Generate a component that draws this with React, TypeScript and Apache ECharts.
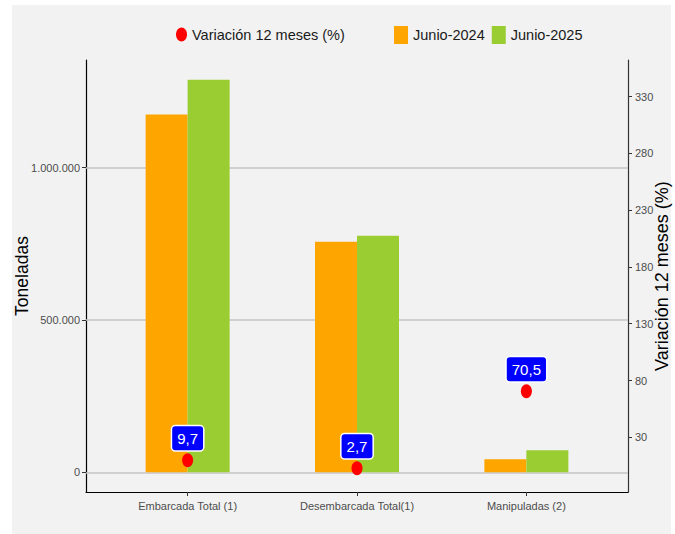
import React, { useEffect, useRef } from "react";
import * as echarts from "echarts";

const categories = ["Embarcada Total (1)", "Desembarcada Total(1)", "Manipuladas (2)"];
const positions = [0, 1, 2];
const junio2024 = [1175000, 757000, 42600];
const junio2025 = [1289000, 777000, 72600];
const variacion = [9.7, 2.7, 70.5];
const leftTicks = [0, 500000, 1000000];
const rightTicks = [30, 80, 130, 180, 230, 280, 330];

const NARROW = "'Liberation Sans Narrow', 'Arial Narrow', 'Liberation Sans', sans-serif";
const SANS = "'Liberation Sans', Arial, sans-serif";
const ELLIPSE =
  "path://M5,0C7.76,0 10,2.24 10,5C10,7.76 7.76,10 5,10C2.24,10 0,7.76 0,5C0,2.24 2.24,0 5,0Z";

const fmtThousands = (v: number) =>
  Math.round(v).toString().replace(/\B(?=(\d{3})+(?!\d))/g, ".");

export default function App() {
  const ref = useRef<HTMLDivElement>(null);
  useEffect(() => {
    if (!ref.current) return;
    const chart = echarts.init(ref.current, undefined, { renderer: "svg" });
    chart.setOption({
      animation: false,
      backgroundColor: "transparent",
      grid: {
        left: 86,
        right: 47,
        top: 60,
        bottom: 42,
        containLabel: false,
        outerBoundsMode: "none",
      },
      legend: [
        {
          data: [{ name: "Variación 12 meses (%)", icon: ELLIPSE }],
          left: 171,
          top: 22,
          itemWidth: 11,
          itemHeight: 14,
          symbolKeepAspect: false,
          textStyle: { fontFamily: NARROW, fontSize: 14.5, color: "#1a1a1a" },
        },
        {
          data: ["Junio-2024", "Junio-2025"],
          left: 389,
          top: 21,
          icon: "rect",
          itemWidth: 14,
          itemHeight: 18,
          itemGap: 7,
          textStyle: { fontFamily: NARROW, fontSize: 14.5, color: "#1a1a1a" },
        },
      ],
      xAxis: {
        type: "value",
        min: -0.6,
        max: 2.6,
        axisLine: { show: true, onZero: false, lineStyle: { color: "#000", width: 1.2 } },
        axisTick: {
          show: true,
          customValues: positions,
          length: 4,
          lineStyle: { color: "#333" },
        },
        axisLabel: {
          customValues: positions,
          formatter: (v: number) => categories[Math.round(v)] ?? "",
          color: "#4d4d4d",
          fontFamily: NARROW,
          fontSize: 11,
          margin: 8,
        },
        splitLine: { show: false },
      },
      yAxis: [
        {
          type: "value",
          position: "left",
          min: -64500,
          max: 1353500,
          name: "Toneladas",
          nameLocation: "middle",
          nameRotate: 90,
          nameGap: 55,
          nameMoveOverlap: false,
          nameTextStyle: { fontFamily: SANS, fontSize: 17.5, color: "#000" },
          axisLine: { show: true, onZero: false, lineStyle: { color: "#000", width: 1.2 } },
          axisTick: {
            show: true,
            customValues: leftTicks,
            length: 4,
            lineStyle: { color: "#333" },
          },
          axisLabel: {
            customValues: leftTicks,
            formatter: (v: number) => fmtThousands(v),
            color: "#4d4d4d",
            fontFamily: NARROW,
            fontSize: 11,
            margin: 6,
          },
          splitLine: { show: false },
        },
        {
          type: "value",
          position: "right",
          min: -18.2,
          max: 362.3,
          name: "Variación 12 meses (%)",
          nameLocation: "middle",
          nameRotate: 90,
          nameGap: 25,
          nameMoveOverlap: false,
          nameTextStyle: { fontFamily: SANS, fontSize: 18, color: "#000" },
          axisLine: { show: true, onZero: false, lineStyle: { color: "#333", width: 1.2 } },
          axisTick: {
            show: true,
            customValues: rightTicks,
            length: 4,
            lineStyle: { color: "#333" },
          },
          axisLabel: {
            customValues: rightTicks,
            color: "#4d4d4d",
            fontFamily: NARROW,
            fontSize: 11,
            margin: 7,
          },
          splitLine: { show: false },
        },
      ],
      series: [
        {
          name: "Junio-2024",
          type: "bar",
          yAxisIndex: 0,
          barWidth: 42,
          barGap: "0%",
          itemStyle: { color: "#FFA500" },
          data: positions.map((p, i) => [p, junio2024[i]]),
          z: 2,
          markLine: {
            silent: true,
            symbol: "none",
            z: 1,
            label: { show: false },
            lineStyle: { color: "#c4c4c4", width: 1.6, type: "solid" },
            data: leftTicks.map((t) => ({ yAxis: t })),
          },
        },
        {
          name: "Junio-2025",
          type: "bar",
          yAxisIndex: 0,
          barWidth: 42,
          barGap: "0%",
          itemStyle: { color: "#9ACD32" },
          data: positions.map((p, i) => [p, junio2025[i]]),
          z: 2,
        },
        {
          name: "Variación 12 meses (%)",
          type: "scatter",
          yAxisIndex: 1,
          symbol: ELLIPSE,
          symbolSize: [11, 14],
          itemStyle: { color: "#ff0000", opacity: 1 },
          z: 5,
          data: positions.map((p, i) => [p, variacion[i]]),
          label: {
            show: true,
            position: "top",
            distance: 3,
            opacity: 1,
            formatter: (p: any) => String(p.value[1]).replace(".", ","),
            backgroundColor: "#0000ff",
            borderColor: "#ffffff",
            borderWidth: 1.5,
            borderRadius: 3,
            padding: [5, 5, 4, 5],
            color: "#ffffff",
            fontFamily: NARROW,
            fontSize: 15,
          },
        },
      ],
    });
    return () => chart.dispose();
  }, []);

  return (
    <div style={{ position: "fixed", left: 0, top: 0, width: 675, height: 534, background: "#fff" }}>
      <div
        style={{
          position: "absolute",
          left: 12,
          top: 5,
          width: 659,
          height: 529,
          background: "#f2f2f2",
        }}
      />
      <div ref={ref} style={{ position: "absolute", left: 0, top: 0, width: 675, height: 534 }} />
    </div>
  );
}
